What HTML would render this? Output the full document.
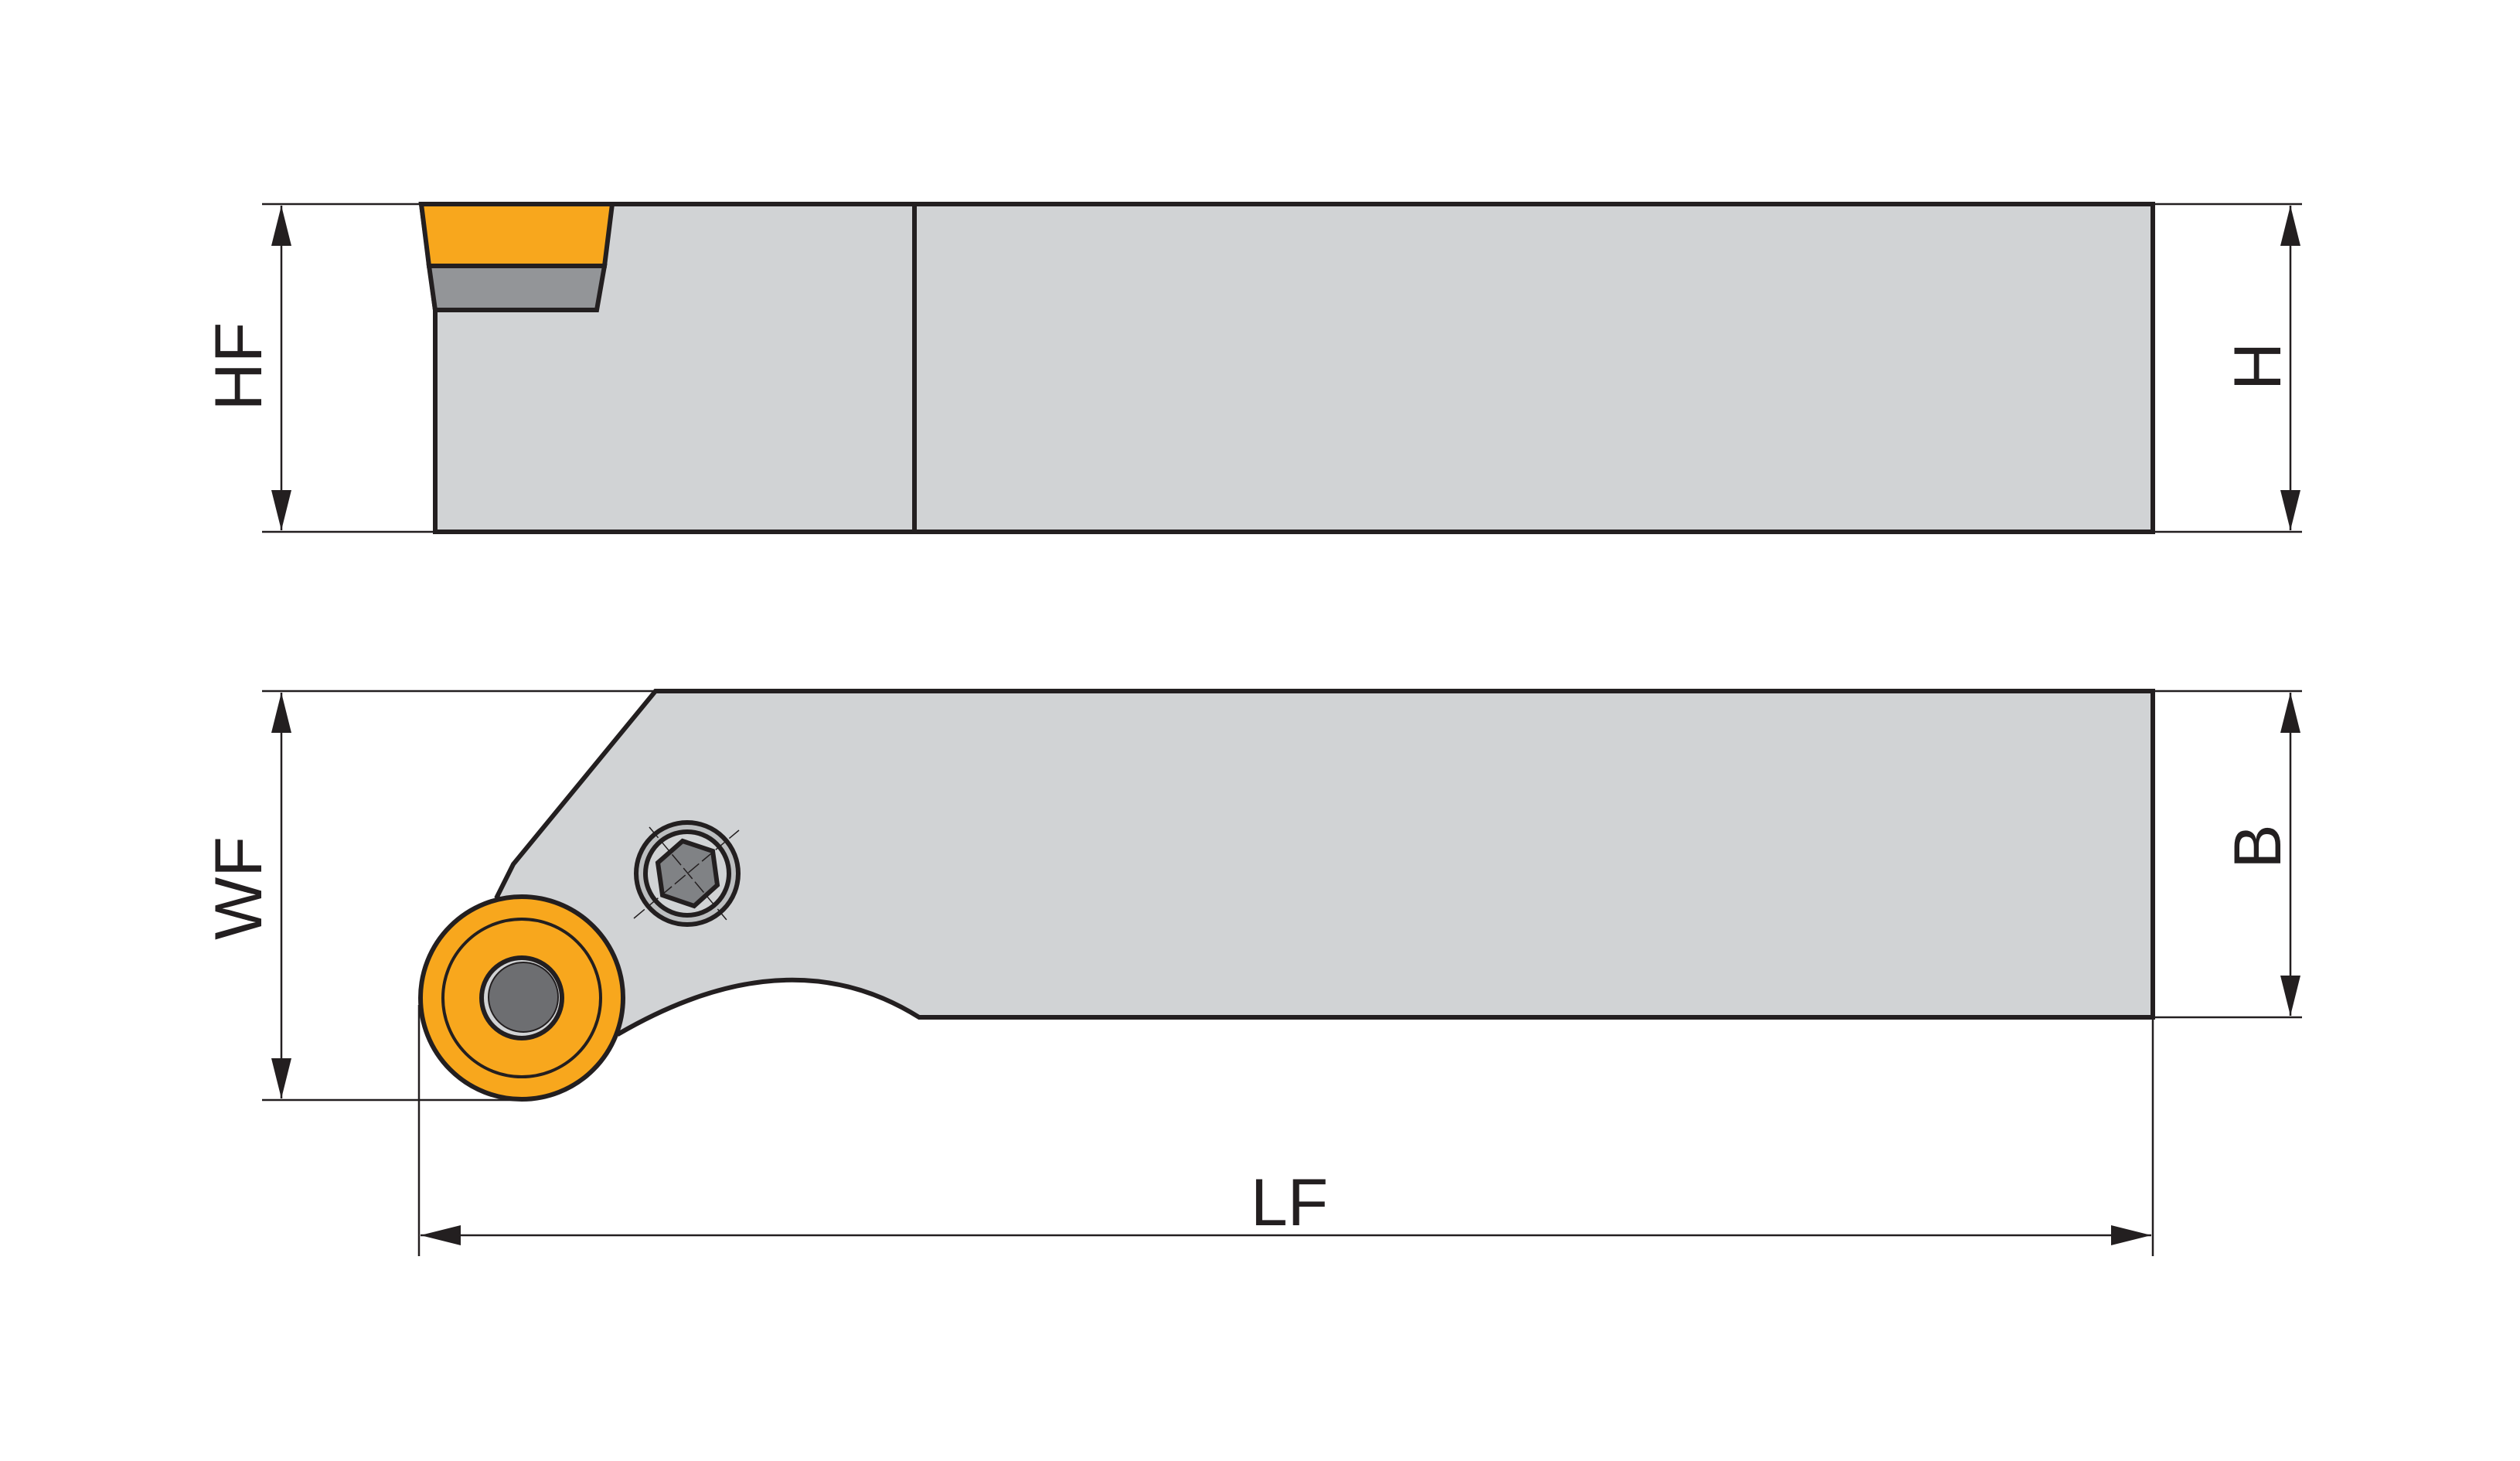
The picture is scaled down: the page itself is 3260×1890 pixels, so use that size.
<!DOCTYPE html>
<html><head><meta charset="utf-8"><style>html,body{margin:0;padding:0;background:#fff}svg{display:block}</style></head>
<body>
<svg width="3260" height="1890" viewBox="0 0 3260 1890" xmlns="http://www.w3.org/2000/svg">
<defs>
<marker id="a" viewBox="0 0 52 26" refX="52" refY="13" markerWidth="52" markerHeight="26" markerUnits="userSpaceOnUse" orient="auto-start-reverse"><path d="M0,0 L52,13 L0,26 Z" fill="#231f20"/></marker>
</defs>
<g stroke="#231f20" stroke-width="2.5" fill="none">
<!-- extension lines -->
<line x1="339" y1="264" x2="545" y2="264"/>
<line x1="339" y1="688" x2="563" y2="688"/>
<line x1="2785" y1="264" x2="2978" y2="264"/>
<line x1="2785" y1="688" x2="2978" y2="688"/>
<line x1="339" y1="894" x2="848" y2="894"/>
<line x1="339" y1="1423" x2="675" y2="1423"/>
<line x1="2785" y1="894" x2="2978" y2="894"/>
<line x1="2785" y1="1316" x2="2978" y2="1316"/>
<line x1="542" y1="1300" x2="542" y2="1625"/>
<line x1="2785" y1="1316" x2="2785" y2="1625"/>
<!-- dim lines -->
<line x1="364" y1="266" x2="364" y2="686" marker-start="url(#a)" marker-end="url(#a)"/>
<line x1="2963" y1="266" x2="2963" y2="686" marker-start="url(#a)" marker-end="url(#a)"/>
<line x1="364" y1="896" x2="364" y2="1421" marker-start="url(#a)" marker-end="url(#a)"/>
<line x1="2963" y1="896" x2="2963" y2="1314" marker-start="url(#a)" marker-end="url(#a)"/>
<line x1="544" y1="1598" x2="2783" y2="1598" marker-start="url(#a)" marker-end="url(#a)"/>
</g>
<!-- top view -->
<g stroke="#231f20" stroke-width="6" stroke-linejoin="miter">
<path d="M545,264 L2785,264 L2785,688 L563,688 L563,401 Z" fill="#d1d3d5"/>
<line x1="1183" y1="264" x2="1183" y2="688"/>
<path d="M555,344 L563,401 L772,401 L782,344 Z" fill="#939598"/>
<path d="M545,264 L792,264 L782,344 L555,344 Z" fill="#f8a71d"/>
</g>
<!-- bottom view -->
<g stroke="#231f20" stroke-width="6" stroke-linejoin="miter">
<path d="M848,894 L2785,894 L2785,1316 L1189,1316 Q1020,1210 801,1337 L643,1160 L664,1118 Z" fill="#d1d3d5"/>
<circle cx="675" cy="1291" r="131" fill="#f8a71d"/>
<circle cx="675" cy="1291" r="102" fill="none" stroke-width="4"/>
<circle cx="675" cy="1291" r="52" fill="#d1d3d5"/>
<circle cx="677" cy="1290" r="45" fill="#6d6e71" stroke-width="2"/>
<circle cx="889" cy="1130" r="66" fill="#bcbec0"/>
<circle cx="889" cy="1130" r="54" fill="#d1d3d5"/>
<path d="M883,1088 L922,1101 L928,1145 L898,1172 L857,1158 L851,1116 Z" fill="#808285"/>
</g>
<g stroke="#231f20" stroke-width="1.5" stroke-dasharray="18,5">
<line x1="840" y1="1070" x2="940" y2="1190"/>
<line x1="820" y1="1188" x2="956" y2="1074"/>
</g>
<g font-family="Liberation Sans, sans-serif" font-size="86" fill="#231f20" text-anchor="middle">
<text transform="translate(338,474) rotate(-90)">HF</text>
<text transform="translate(2950,474) rotate(-90)">H</text>
<text transform="translate(338,1149) rotate(-90)">WF</text>
<text transform="translate(2950,1095) rotate(-90)">B</text>
<text x="1668" y="1585">LF</text>
</g>
</svg>
</body></html>
